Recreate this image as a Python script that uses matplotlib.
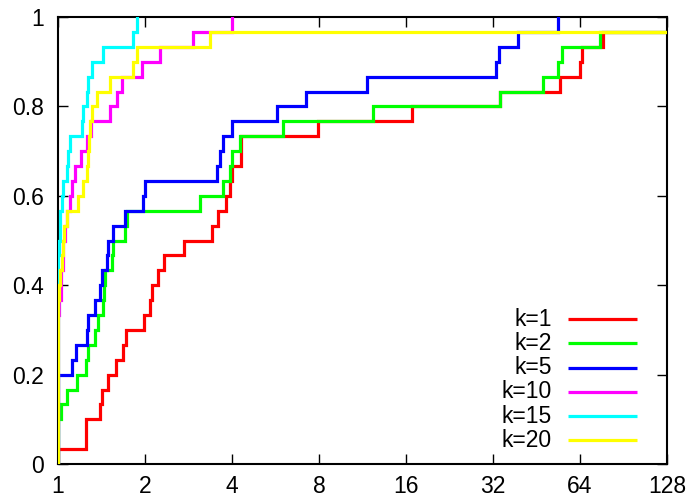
import numpy as np
import matplotlib
matplotlib.use("Agg")
import matplotlib.pyplot as plt

plt.rcParams['font.family'] = ['Liberation Sans', 'DejaVu Sans']

# sorted sample values for each k (30 samples, 200 = beyond the plot range)
k1 = [1.0, 1.247, 1.247, 1.397, 1.416, 1.486, 1.584, 1.682, 1.715, 1.989,
      2.08, 2.11, 2.223, 2.332, 2.72, 3.403, 3.587, 3.804, 3.937, 3.991,
      4.287, 4.287, 7.956, 16.74, 33.83, 54.56, 64.0, 64.87, 77.06, 200]
k2 = [1.0, 1.0, 1.0, 1.024, 1.072, 1.161, 1.25, 1.273, 1.343, 1.379,
      1.435, 1.445, 1.454, 1.534, 1.553, 1.705, 1.729, 3.1, 3.73, 3.937,
      3.991, 4.25, 5.99, 12.33, 33.83, 47.78, 53.84, 55.32, 75.06, 200]
k5 = [1.0, 1.0, 1.0, 1.0, 1.0, 1.0, 1.115, 1.151, 1.257, 1.273,
      1.343, 1.397, 1.416, 1.474, 1.493, 1.553, 1.705, 1.973, 2.0, 3.55,
      3.635, 3.732, 3.991, 5.739, 7.21, 11.7, 32.77, 33.65, 39.14, 53.84]
k10 = [1.0, 1.0, 1.0, 1.0, 1.0, 1.0, 1.0, 1.0, 1.0, 1.0,
       1.008, 1.024, 1.024, 1.043, 1.043, 1.057, 1.072, 1.1, 1.115, 1.145,
       1.198, 1.257, 1.301, 1.513, 1.596, 1.661, 1.948, 2.254, 2.939, 3.991]
k15 = [1.0, 1.0, 1.0, 1.0, 1.0, 1.0, 1.0, 1.0, 1.0, 1.0,
       1.0, 1.0, 1.0, 1.0, 1.008, 1.016, 1.02, 1.032, 1.043, 1.072,
       1.086, 1.1, 1.208, 1.223, 1.257, 1.273, 1.308, 1.435, 1.822, 1.872]
k20 = [1.0, 1.0, 1.0, 1.0, 1.0, 1.0, 1.0, 1.0, 1.0, 1.0,
       1.0, 1.008, 1.016, 1.032, 1.043, 1.05, 1.072, 1.173, 1.22, 1.257,
       1.27, 1.28, 1.29, 1.308, 1.361, 1.513, 1.822, 1.872, 3.357, 200]

labels = ["k=1", "k=2", "k=5", "k=10", "k=15", "k=20"]
colors = ["#ff0000", "#00ff00", "#0000ff", "#ff00ff", "#00ffff", "#ffff00"]
xticks = [1, 2, 4, 8, 16, 32, 64, 128]
yticks = [0, 0.2, 0.4, 0.6, 0.8, 1]

fig = plt.figure(figsize=(6.93, 4.98), dpi=100)
ax = fig.add_axes([58 / 693, 34 / 498, 609 / 693, 447 / 498])

for i, (s, c, lab) in enumerate(zip([k1, k2, k5, k10, k15, k20], colors, labels)):
    s = np.sort(np.array(s))
    n = len(s)
    # empirical CDF, drawn like gnuplot "steps" (ends at the last sample)
    x = np.concatenate([[1.0], s])
    y = np.concatenate([[0.0], np.arange(1, n + 1) / n])
    ax.step(x, y, where="post", color=c, lw=2.3, solid_joinstyle="miter",
            zorder=6 + i)
    # legend entry
    ty = 0.3237 - i * 0.0541
    ax.text(0.8107, ty, lab, transform=ax.transAxes, ha="right", va="center",
            fontsize=16.5)
    ax.plot([0.8374, 0.9507], [ty, ty], transform=ax.transAxes, color=c,
            lw=2.3, solid_capstyle="butt")

ax.set_xscale("log", base=2)
ax.set_xlim(1, 128)
ax.set_ylim(0, 1)
ax.set_xticks(xticks)
ax.set_xticklabels([str(t) for t in xticks])
ax.set_yticks(yticks)
ax.set_yticklabels(["0", "0.2", "0.4", "0.6", "0.8", "1"])
ax.minorticks_off()
ax.tick_params(direction="in", length=7.5, width=1, labelsize=16.5,
               top=True, right=True)
ax.tick_params(axis="y", pad=10)
ax.tick_params(axis="x", pad=8)
for sp in ax.spines.values():
    sp.set_linewidth(1.5)

fig.savefig("out.png", dpi=100)
